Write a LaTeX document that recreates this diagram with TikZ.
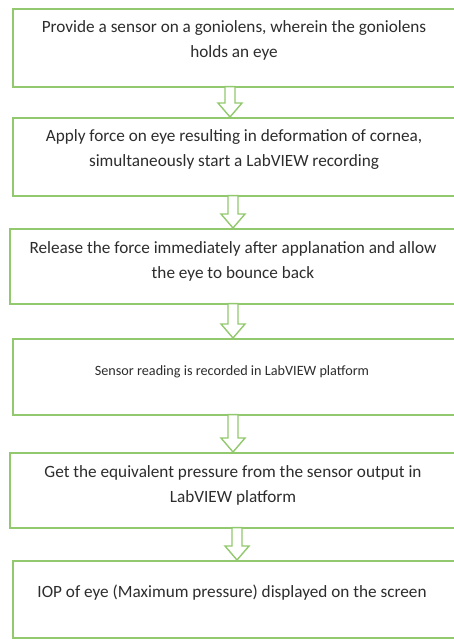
\documentclass[tikz,border=0pt]{standalone}
\usepackage{fontspec}
\setmainfont{Carlito}
\usetikzlibrary{calc}
\definecolor{boxgreen}{RGB}{146,200,110}
\definecolor{txt}{RGB}{45,45,45}
\begin{document}
\begin{tikzpicture}[x=1pt,y=-1pt,
  stepbox/.style={draw=boxgreen,line width=1.6pt,minimum width=444pt,inner sep=0pt,anchor=north west},
  steptext/.style={text=txt,font=\fontsize{17.2}{25}\selectfont,align=center,anchor=base,inner sep=0pt},
  blockarrow/.style={draw=boxgreen,line width=1.4pt,fill=white,line join=miter}]
\fill[white] (0,0) rectangle (453,639);
\useasboundingbox (0,0) rectangle (453,639);
% boxes
\node[stepbox,minimum height=78pt] (b1) at (12,8) {};
\node[stepbox,minimum height=78pt] (b2) at (12,117) {};
\node[stepbox,minimum height=75pt,minimum width=447pt] (b3) at (9,228) {};
\node[stepbox,minimum height=76pt] (b4) at (12,338) {};
\node[stepbox,minimum height=75pt,minimum width=447pt] (b5) at (9,452) {};
\node[stepbox,minimum height=77pt] (b6) at (12,560) {};
% texts (base anchor = baseline of last line)
\node[steptext] (t1) at (234,58) {Provide a sensor on a goniolens, wherein the goniolens\\holds an eye};
\node[steptext] (t2) at (234,167) {Apply force on eye resulting in deformation of cornea,\\simultaneously start a LabVIEW recording};
\node[steptext] (t3) at (233,278) {Release the force immediately after applanation and allow\\the eye to bounce back};
\node[steptext,font=\fontsize{14.2}{25}\selectfont] (t4) at (232,375) {Sensor reading is recorded in LabVIEW platform};
\node[steptext] (t5) at (233,502) {Get the equivalent pressure from the sensor output in\\LabVIEW platform};
\node[steptext] (t6) at (232,597) {IOP of eye (Maximum pressure) displayed on the screen};
% arrow columns
\coordinate (x1) at (230,0);
\coordinate (x2) at (233,0);
\coordinate (x3) at (233,0);
\coordinate (x4) at (233,0);
\coordinate (x5) at (237,0);
\foreach \i/\j [count=\k] in {b1/b2,b2/b3,b3/b4,b4/b5,b5/b6}{
  \coordinate (s) at (\i.south -| x\k);
  \coordinate (e) at (\j.north -| x\k);
  \draw[blockarrow] ($(s)+(-5,-1)$) -- ($(s)+(5,-1)$) -- ($(e)+(5,-14)$) -- ($(e)+(12,-14)$)
     -- (e) -- ($(e)+(-12,-14)$) -- ($(e)+(-5,-14)$) -- cycle;
}
\end{tikzpicture}
\end{document}
